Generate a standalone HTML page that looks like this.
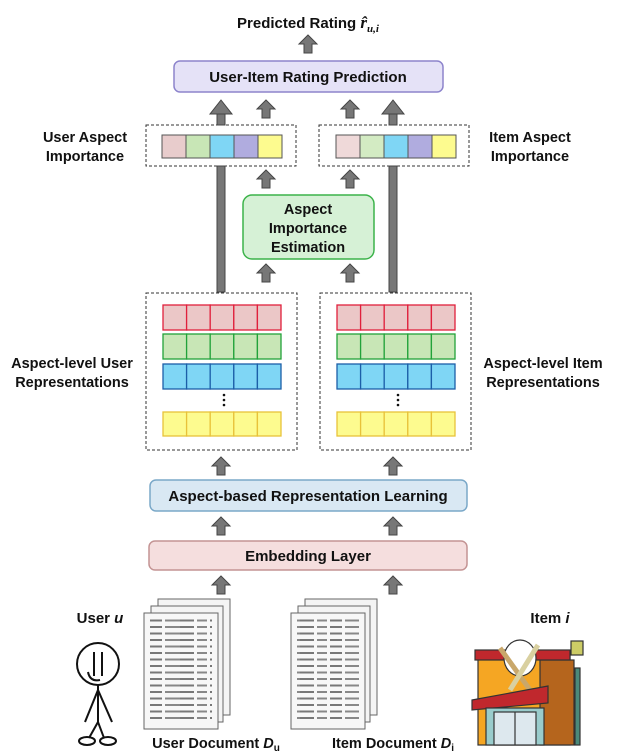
<!DOCTYPE html>
<html><head><style>
html,body{margin:0;padding:0;background:#fff}
svg{display:block}
text{font-family:"Liberation Sans",sans-serif;font-weight:bold;fill:#111}
</style></head><body>
<svg width="617" height="752" viewBox="0 0 617 752" xmlns="http://www.w3.org/2000/svg">
<defs>
<pattern id="txt" width="60" height="6.5" patternUnits="userSpaceOnUse">
<rect x="0" y="2" width="14" height="2" fill="#777"/><rect x="17" y="2" width="10" height="2" fill="#888"/><rect x="30" y="2" width="12" height="2" fill="#777"/><rect x="45" y="2" width="15" height="2" fill="#888"/>
</pattern>
</defs>
<!-- title -->
<text x="308" y="28" font-size="15" text-anchor="middle">Predicted Rating <tspan font-family="Liberation Serif" font-style="italic" font-size="17">r̂</tspan><tspan font-family="Liberation Serif" font-style="italic" font-size="11" dy="4">u,i</tspan></text>
<g fill="#777" stroke="#444" stroke-width="1">
<polygon points="308,35 317,44 312,44 312,53 304,53 304,44 299,44"/>
<!-- long arrows -->
<polygon points="221,100 232,114 225,114 225,292 217,292 217,114 210,114"/>
<polygon points="393,100 404,114 397,114 397,292 389,292 389,114 382,114"/>
<!-- small arrows -->
<polygon points="266,100 275,109 270,109 270,118 262,118 262,109 257,109"/>
<polygon points="350,100 359,109 354,109 354,118 346,118 346,109 341,109"/>
<polygon points="266,170 275,179 270,179 270,188 262,188 262,179 257,179"/>
<polygon points="350,170 359,179 354,179 354,188 346,188 346,179 341,179"/>
<polygon points="266,264 275,273 270,273 270,282 262,282 262,273 257,273"/>
<polygon points="350,264 359,273 354,273 354,282 346,282 346,273 341,273"/>
<polygon points="221,457 230,466 225,466 225,475 217,475 217,466 212,466"/>
<polygon points="393,457 402,466 397,466 397,475 389,475 389,466 384,466"/>
<polygon points="221,517 230,526 225,526 225,535 217,535 217,526 212,526"/>
<polygon points="393,517 402,526 397,526 397,535 389,535 389,526 384,526"/>
<polygon points="221,576 230,585 225,585 225,594 217,594 217,585 212,585"/>
<polygon points="393,576 402,585 397,585 397,594 389,594 389,585 384,585"/>
</g>
<!-- rating prediction -->
<rect x="174" y="61" width="269" height="31" rx="6" fill="#e5e2f7" stroke="#8d84cc" stroke-width="1.5"/>
<text x="308" y="82" font-size="15" text-anchor="middle">User-Item Rating Prediction</text>
<!-- aspect importance boxes -->
<rect x="146" y="125" width="150" height="41" fill="#fff" stroke="#333" stroke-dasharray="3,2"/>
<rect x="319" y="125" width="150" height="41" fill="#fff" stroke="#333" stroke-dasharray="3,2"/>
<g stroke="#555" stroke-width="1">
<rect x="162" y="135" width="24" height="23" fill="#e8cccc"/><rect x="186" y="135" width="24" height="23" fill="#c8e6b6"/><rect x="210" y="135" width="24" height="23" fill="#7fd6f5"/><rect x="234" y="135" width="24" height="23" fill="#b0acdf"/><rect x="258" y="135" width="24" height="23" fill="#fdfb8f"/>
<rect x="336" y="135" width="24" height="23" fill="#efd9d9"/><rect x="360" y="135" width="24" height="23" fill="#d3ebc3"/><rect x="384" y="135" width="24" height="23" fill="#7fd6f5"/><rect x="408" y="135" width="24" height="23" fill="#b0acdf"/><rect x="432" y="135" width="24" height="23" fill="#fdfb8f"/>
</g>
<!-- redraw long arrow shafts over boxes -->
<g fill="#777" stroke="#444"><rect x="217" y="166" width="8" height="126"/><rect x="389" y="166" width="8" height="126"/><rect x="217" y="114" width="8" height="11"/><rect x="389" y="114" width="8" height="11"/></g>
<text x="85" y="142" font-size="14.5" text-anchor="middle">User Aspect</text>
<text x="85" y="161" font-size="14.5" text-anchor="middle">Importance</text>
<text x="530" y="142" font-size="14.5" text-anchor="middle">Item Aspect</text>
<text x="530" y="161" font-size="14.5" text-anchor="middle">Importance</text>
<!-- estimation -->
<rect x="243" y="195" width="131" height="64" rx="9" fill="#d6f1d6" stroke="#3cb34a" stroke-width="1.5"/>
<text x="308" y="214" font-size="14.5" text-anchor="middle">Aspect</text>
<text x="308" y="233" font-size="14.5" text-anchor="middle">Importance</text>
<text x="308" y="252" font-size="14.5" text-anchor="middle">Estimation</text>
<!-- aspect-level boxes -->
<rect x="146" y="293" width="151" height="157" fill="#fff" stroke="#333" stroke-dasharray="3,2"/>
<rect x="320" y="293" width="151" height="157" fill="#fff" stroke="#333" stroke-dasharray="3,2"/>
<g stroke-width="1.3">
<g stroke="#e0203c" fill="#ebc7c7"><rect x="163" y="305" width="23.6" height="25"/><rect x="186.6" y="305" width="23.6" height="25"/><rect x="210.2" y="305" width="23.6" height="25"/><rect x="233.8" y="305" width="23.6" height="25"/><rect x="257.4" y="305" width="23.6" height="25"/></g>
<g stroke="#22a23a" fill="#c8e6b6"><rect x="163" y="334" width="23.6" height="25"/><rect x="186.6" y="334" width="23.6" height="25"/><rect x="210.2" y="334" width="23.6" height="25"/><rect x="233.8" y="334" width="23.6" height="25"/><rect x="257.4" y="334" width="23.6" height="25"/></g>
<g stroke="#1c5fa8" fill="#7fd6f5"><rect x="163" y="364" width="23.6" height="25"/><rect x="186.6" y="364" width="23.6" height="25"/><rect x="210.2" y="364" width="23.6" height="25"/><rect x="233.8" y="364" width="23.6" height="25"/><rect x="257.4" y="364" width="23.6" height="25"/></g>
<g stroke="#e8c23a" fill="#fdfb8f"><rect x="163" y="412" width="23.6" height="24"/><rect x="186.6" y="412" width="23.6" height="24"/><rect x="210.2" y="412" width="23.6" height="24"/><rect x="233.8" y="412" width="23.6" height="24"/><rect x="257.4" y="412" width="23.6" height="24"/></g>
<g stroke="#e0203c" fill="#ebc7c7"><rect x="337" y="305" width="23.6" height="25"/><rect x="360.6" y="305" width="23.6" height="25"/><rect x="384.2" y="305" width="23.6" height="25"/><rect x="407.8" y="305" width="23.6" height="25"/><rect x="431.4" y="305" width="23.6" height="25"/></g>
<g stroke="#22a23a" fill="#c8e6b6"><rect x="337" y="334" width="23.6" height="25"/><rect x="360.6" y="334" width="23.6" height="25"/><rect x="384.2" y="334" width="23.6" height="25"/><rect x="407.8" y="334" width="23.6" height="25"/><rect x="431.4" y="334" width="23.6" height="25"/></g>
<g stroke="#1c5fa8" fill="#7fd6f5"><rect x="337" y="364" width="23.6" height="25"/><rect x="360.6" y="364" width="23.6" height="25"/><rect x="384.2" y="364" width="23.6" height="25"/><rect x="407.8" y="364" width="23.6" height="25"/><rect x="431.4" y="364" width="23.6" height="25"/></g>
<g stroke="#e8c23a" fill="#fdfb8f"><rect x="337" y="412" width="23.6" height="24"/><rect x="360.6" y="412" width="23.6" height="24"/><rect x="384.2" y="412" width="23.6" height="24"/><rect x="407.8" y="412" width="23.6" height="24"/><rect x="431.4" y="412" width="23.6" height="24"/></g>
</g>
<g fill="#111"><circle cx="224" cy="395" r="1.3"/><circle cx="224" cy="400" r="1.3"/><circle cx="224" cy="405" r="1.3"/><circle cx="398" cy="395" r="1.3"/><circle cx="398" cy="400" r="1.3"/><circle cx="398" cy="405" r="1.3"/></g>
<text x="72" y="368" font-size="14.5" text-anchor="middle">Aspect-level User</text>
<text x="72" y="387" font-size="14.5" text-anchor="middle">Representations</text>
<text x="543" y="368" font-size="14.5" text-anchor="middle">Aspect-level Item</text>
<text x="543" y="387" font-size="14.5" text-anchor="middle">Representations</text>
<!-- aspect-based -->
<rect x="150" y="480" width="317" height="31" rx="6" fill="#d9e8f3" stroke="#7aa8c8" stroke-width="1.5"/>
<text x="308" y="501" font-size="15" text-anchor="middle">Aspect-based Representation Learning</text>
<!-- embedding -->
<rect x="149" y="541" width="318" height="29" rx="6" fill="#f5dede" stroke="#c49494" stroke-width="1.5"/>
<text x="308" y="561" font-size="15" text-anchor="middle">Embedding Layer</text>
<!-- documents -->
<g stroke="#666" stroke-width="1">
<rect x="158" y="599" width="72" height="116" fill="#f4f4f4"/>
<rect x="151" y="606" width="72" height="116" fill="#f4f4f4"/>
<rect x="144" y="613" width="74" height="116" fill="#f7f7f7"/>
<rect x="305" y="599" width="72" height="116" fill="#f4f4f4"/>
<rect x="298" y="606" width="72" height="116" fill="#f4f4f4"/>
<rect x="291" y="613" width="74" height="116" fill="#f7f7f7"/>
</g>
<rect x="150" y="619" width="62" height="102" fill="url(#txt)"/>
<rect x="297" y="619" width="62" height="102" fill="url(#txt)"/>
<text x="216" y="748" font-size="14.5" text-anchor="middle">User Document <tspan font-style="italic">D</tspan><tspan font-size="10" dy="3">u</tspan></text>
<text x="393" y="748" font-size="14.5" text-anchor="middle">Item Document <tspan font-style="italic">D</tspan><tspan font-size="10" dy="3">i</tspan></text>
<!-- user -->
<text x="100" y="623" font-size="15" text-anchor="middle">User <tspan font-style="italic">u</tspan></text>
<g stroke="#111" stroke-width="2" fill="none">
<circle cx="98" cy="664" r="21"/>
<line x1="94" y1="652" x2="94" y2="676"/><line x1="102" y1="652" x2="102" y2="676"/>
<path d="M88,672 Q90,682 100,680"/>
<line x1="98" y1="685" x2="98" y2="722"/>
<line x1="98" y1="690" x2="85" y2="722"/><line x1="98" y1="690" x2="112" y2="722"/>
<line x1="98" y1="722" x2="89" y2="738"/><line x1="98" y1="722" x2="104" y2="738"/>
<ellipse cx="87" cy="741" rx="8" ry="4"/><ellipse cx="108" cy="741" rx="8" ry="4"/>
</g>
<!-- item -->
<text x="550" y="623" font-size="15" text-anchor="middle">Item <tspan font-style="italic">i</tspan></text>
<g stroke="#333" stroke-width="1.2">
<rect x="478" y="655" width="92" height="90" fill="#f5a623"/>
<rect x="540" y="660" width="34" height="85" fill="#b5651d"/>
<rect x="475" y="650" width="95" height="10" fill="#c0282d"/>
<ellipse cx="520" cy="658" rx="16" ry="18" fill="#fff"/>
<line x1="500" y1="648" x2="530" y2="690" stroke="#c9a76a" stroke-width="5"/>
<line x1="538" y1="645" x2="510" y2="690" stroke="#d9d0a0" stroke-width="5"/>
<polygon points="472,700 548,686 548,703 472,710" fill="#c0282d"/>
<rect x="486" y="708" width="58" height="37" fill="#9cc"/>
<rect x="494" y="712" width="42" height="33" fill="#dde8ee"/>
<line x1="515" y1="712" x2="515" y2="745"/>
<rect x="575" y="668" width="5" height="77" fill="#4a8a7a"/>
<rect x="571" y="641" width="12" height="14" fill="#cccc66"/>
</g>
</svg>
</body></html>
